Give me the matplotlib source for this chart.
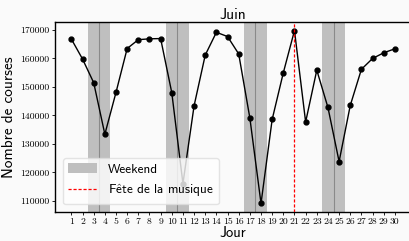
import matplotlib
matplotlib.use("Agg")
import matplotlib.pyplot as plt
import numpy as np

# Données : nombre de courses par jour (juin)
days = list(range(1, 31))
courses = [166800, 159800, 151500, 133400, 148100, 163500, 166600, 166900, 167000, 148000,
           116100, 143400, 161200, 169200, 167700, 161600, 139100, 109100, 138600, 155000,
           169800, 137700, 155900, 142800, 123800, 143500, 156200, 160000, 162000, 163400]
weekend_starts = [3, 10, 17, 24]
fete_musique = 21
y_ticks = [110000, 120000, 130000, 140000, 150000, 160000, 170000]

plt.rcParams["mathtext.fontset"] = "cm"
plt.rcParams["mathtext.sf"] = "cmss10"

sans = ["cmss10", "DejaVu Sans"]
serif = ["cmr10", "DejaVu Serif"]

bg = "#fafafa"
fig = plt.figure(figsize=(4.09, 2.41), dpi=100, facecolor=bg)
ax = fig.add_axes([0.135, 0.12, 0.87, 0.789], facecolor=bg)

for i, d in enumerate(weekend_starts):
    ax.axvspan(d - 0.5, d + 1.5, color="#bfbfbf", lw=0, zorder=1,
               label="Weekend" if i == 0 else None)
    ax.axvline(d + 0.5, color="#8a8a8a", lw=0.8, zorder=1.5)

ax.axvline(fete_musique, color="red", ls="--", lw=0.9, dashes=(2.5, 1.5),
           zorder=3, label=r"F$\mathsf{\hat{e}}$te de la musique")
ax.plot(days, courses, color="black", marker="o", markersize=3.5, lw=1, zorder=2)

ax.set_xticks(days)
ax.set_xticklabels([str(d) for d in days], family=serif, fontsize=7)
ax.set_yticks(y_ticks)
ax.set_yticklabels([str(v) for v in y_ticks], family=serif, fontsize=7)
ax.tick_params(length=2.5, width=0.6, pad=2)
ax.tick_params(axis="x", pad=1.5)

for s in ["left", "top", "bottom", "right"]:
    ax.spines[s].set_linewidth(1.0)
    ax.spines[s].set_color("black")

ax.set_xlabel("Jour", family=sans, fontsize=10.5, labelpad=0)
ax.set_ylabel("Nombre de courses", family=sans, fontsize=11, labelpad=3)
ax.set_title("Juin", family=sans, fontsize=11, pad=2)

leg = ax.legend(loc="lower left", prop={"family": sans, "size": 9.5},
                fancybox=True, framealpha=0.8, edgecolor="#dddddd",
                borderaxespad=0.6, handlelength=2.2)

fig.savefig("out.png", dpi=100, facecolor=bg)
